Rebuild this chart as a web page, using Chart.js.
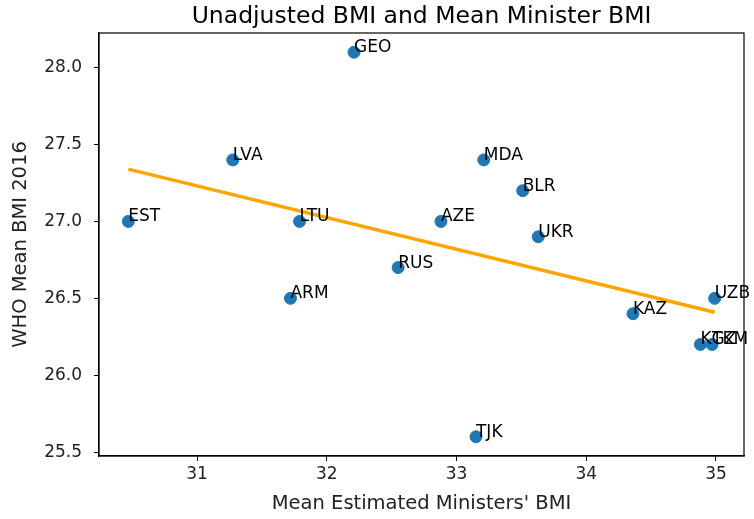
<!DOCTYPE html>
<html>
<head>
<meta charset="utf-8">
<title>Unadjusted BMI and Mean Minister BMI</title>
<script src="https://cdn.jsdelivr.net/npm/chart.js@4/dist/chart.umd.min.js"></script>
<style>
  html, body { margin: 0; padding: 0; background: #fff; }
  #wrap { width: 754px; height: 519px; position: relative; }
</style>
</head>
<body>
<div id="wrap"><canvas id="chart" width="754" height="519"></canvas></div>
<script>
// Country codes and their two BMI measures
const countries = ['EST', 'LVA', 'ARM', 'LTU', 'GEO', 'RUS', 'AZE', 'TJK', 'MDA', 'BLR', 'UKR', 'KAZ', 'KGZ', 'TKM', 'UZB'];
const ministerBmi = [30.47, 31.275, 31.72, 31.79, 32.21, 32.55, 32.88, 33.15, 33.21, 33.51, 33.63, 34.36, 34.88, 34.97, 34.99];
const whoBmi = [27.0, 27.4, 26.5, 27.0, 28.1, 26.7, 27.0, 25.6, 27.4, 27.2, 26.9, 26.4, 26.2, 26.2, 26.5];

// Fitted trend line end points
const trendX = [30.47, 34.99];
const trendY = [27.34, 26.41];

// Axis ticks
const xTicks = [31, 32, 33, 34, 35];
const yTicks = [25.5, 26.0, 26.5, 27.0, 27.5, 28.0];

const FONT = '"DejaVu Sans", "Liberation Sans", sans-serif';

const points = countries.map((c, i) => ({ x: ministerBmi[i], y: whoBmi[i], label: c }));
const trend = trendX.map((x, i) => ({ x: x, y: trendY[i] }));

// Title, box frame and point annotations
const decorations = {
  id: 'decorations',
  afterDatasetsDraw(chart) {
    const { ctx, scales } = chart;
    ctx.save();
    ctx.font = '17px ' + FONT;
    ctx.fillStyle = '#000';
    ctx.textAlign = 'left';
    ctx.textBaseline = 'alphabetic';
    points.forEach(p => {
      ctx.fillText(p.label, scales.x.getPixelForValue(p.x), scales.y.getPixelForValue(p.y));
    });
    ctx.restore();
  },
  afterDraw(chart) {
    const { ctx, chartArea } = chart;
    ctx.save();
    ctx.strokeStyle = '#000';
    ctx.lineWidth = 1.2;
    ctx.strokeRect(chartArea.left, chartArea.top, chartArea.right - chartArea.left, chartArea.bottom - chartArea.top);
    ctx.font = '23.5px ' + FONT;
    ctx.fillStyle = '#000';
    ctx.textAlign = 'center';
    ctx.textBaseline = 'alphabetic';
    ctx.fillText('Unadjusted BMI and Mean Minister BMI', (chartArea.left + chartArea.right) / 2, 23);
    ctx.restore();
  }
};

new Chart(document.getElementById('chart'), {
  type: 'scatter',
  data: {
    datasets: [
      {
        data: points,
        backgroundColor: '#1f77b4',
        borderColor: '#1f77b4',
        borderWidth: 1,
        pointRadius: 6,
        pointHoverRadius: 6,
        order: 0
      },
      {
        type: 'line',
        data: trend,
        borderColor: '#ffa500',
        borderWidth: 3.5,
        pointRadius: 0,
        fill: false,
        tension: 0,
        order: 1
      }
    ]
  },
  options: {
    responsive: false,
    devicePixelRatio: 1,
    animation: false,
    layout: { padding: { left: 0, right: 10, top: 33, bottom: 0 } },
    plugins: {
      legend: { display: false },
      title: { display: false },
      tooltip: { enabled: false }
    },
    scales: {
      x: {
        type: 'linear',
        min: 30.244,
        max: 35.216,
        afterBuildTicks: s => { s.ticks = xTicks.map(v => ({ value: v })); },
        afterFit: s => { s.height = 63; },
        grid: { display: true, drawOnChartArea: false, drawTicks: true, tickLength: 5, color: '#000', lineWidth: 1 },
        border: { display: true, color: '#000', width: 1.2 },
        ticks: {
          font: { family: FONT, size: 17 },
          color: '#222',
          padding: 3,
          maxRotation: 0,
          callback: v => String(v)
        },
        title: {
          display: true,
          text: "Mean Estimated Ministers' BMI",
          font: { family: FONT, size: 19.5 },
          color: '#222',
          padding: { top: 0, bottom: 3 }
        }
      },
      y: {
        type: 'linear',
        min: 25.475,
        max: 28.225,
        afterBuildTicks: s => { s.ticks = yTicks.map(v => ({ value: v })); },
        afterFit: s => { s.width = 99; },
        grid: { display: true, drawOnChartArea: false, drawTicks: true, tickLength: 5, color: '#000', lineWidth: 1 },
        border: { display: true, color: '#000', width: 1.2 },
        ticks: {
          font: { family: FONT, size: 17 },
          color: '#222',
          padding: 12,
          callback: v => Number(v).toFixed(1)
        },
        title: {
          display: true,
          text: 'WHO Mean BMI 2016',
          font: { family: FONT, size: 19.5 },
          color: '#222',
          padding: { top: 9, bottom: 0 }
        }
      }
    }
  },
  plugins: [decorations]
});
</script>
</body>
</html>
